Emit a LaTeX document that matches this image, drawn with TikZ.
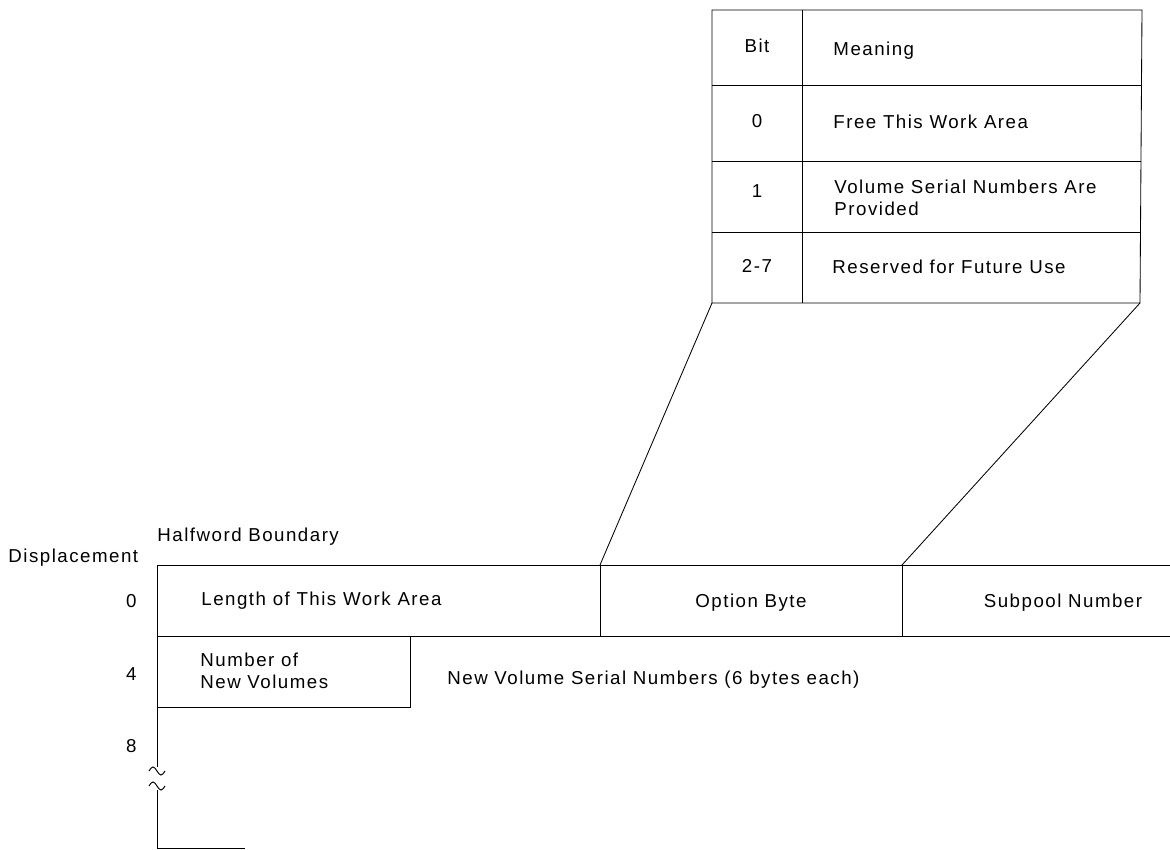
\documentclass[tikz,border=0pt]{standalone}
\usepackage{fontspec}
\setmainfont{Liberation Sans}[LetterSpace=8]
\usetikzlibrary{calc}

\tikzset{
	txt/.style={inner sep=0pt, anchor=base west},
	mid/.style={inner sep=0pt, anchor=base},
	disp/.style={inner sep=0pt, anchor=base east},
}

\begin{document}
\begin{tikzpicture}[x=0.25mm, y=-0.25mm, line width=0.6pt,
	font=\fontsize{13.3}{15.5}\selectfont]

	\useasboundingbox (0,0) rectangle (1170,850);

	% ---- parameters

	\def\bitcol{802}
	\def\divA{600}
	\def\divB{902}

	% ---- coordinates

	\coordinate (TL) at (712,10);
	\coordinate (TR) at (1142,10);
	\coordinate (BR) at (1140,303);
	\coordinate (BL) at (712,303);

	\coordinate (A0) at (157,565);
	\coordinate (A1) at (1170,565);
	\coordinate (B0) at (157,636);
	\coordinate (B1) at (1170,636);
	\coordinate (OA) at (\divA,565);
	\coordinate (OB) at (\divB,565);

	% ---- bit table

	\draw (TL) -- (TR) -- (BR) -- (BL) -- cycle;
	\draw (\bitcol,10) -- (\bitcol,303);
	\foreach \y in {85,161,232} { \draw (712,\y) -- (1141,\y); }

	\node[mid] (bit)  at (757,52)  {Bit};
	\node[txt] (mean) at (833,55)  {Meaning};
	\node[mid] (b0)   at (757,127) {0};
	\node[txt] (m0)   at (833,128) {Free This Work Area};
	\node[mid] (b1)   at (757,197) {1};
	\node[txt] (m1a)  at (834,193) {Volume Serial Numbers Are};
	\node[txt] (m1b)  at (834,215) {Provided};
	\node[mid] (b2)   at (757,272) {2-7};
	\node[txt] (m2)   at (832,273) {Reserved for Future Use};

	% ---- expansion lines

	\draw (BL) -- (OA);
	\draw (BR) -- (OB);

	% ---- work area

	\draw (A0) -- (A1);
	\draw (B0) -- (B1);
	\draw (OA) -- (\divA,636);
	\draw (OB) -- (\divB,636);
	\draw (B0) rectangle (410,707);
	\draw (A0) -- (157,767);
	\draw (157,790) -- (157,848) -- (245,848);

	% ---- break marks

	\foreach \y in {771,786} {
		\draw[line width=0.7pt] (149,\y) sin (153,\y-4) cos (157,\y) sin (161,\y+4) cos (165,\y);
	}

	% ---- labels

	\node[txt] (half) at (157,541) {Halfword Boundary};
	\node[txt] (disp) at (8,562) {Displacement};
	\node[disp] (d0) at (137,607) {0};
	\node[disp] (d4) at (137,680) {4};
	\node[disp] (d8) at (137,752) {8};

	\node[txt] (len)  at (201,605) {Length of This Work Area};
	\node[mid] (opt)  at (751,607) {Option Byte};
	\node[mid] (sub)  at (1063,607) {Subpool Number};
	\node[txt] (nv1)  at (200,666) {Number of};
	\node[txt] (nv2)  at (200,688) {New Volumes};
	\node[txt] (vsn)  at (447,684) {New Volume Serial Numbers (6 bytes each)};

\end{tikzpicture}
\end{document}
